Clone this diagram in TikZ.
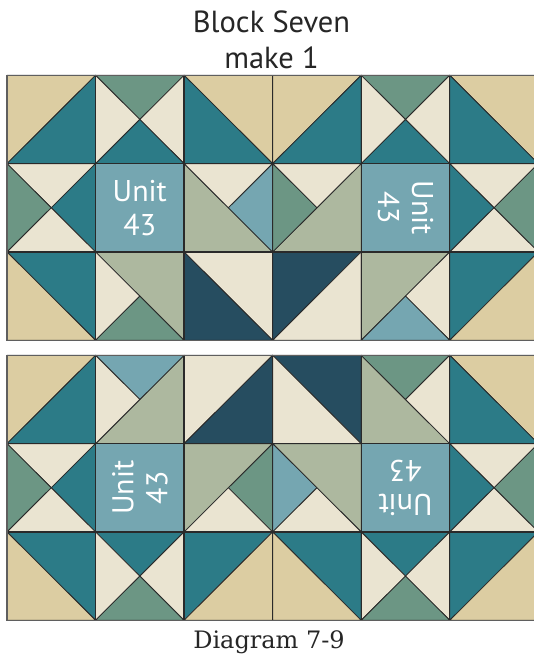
\documentclass[tikz,border=0pt]{standalone}
\usepackage{fontspec}
\setmainfont{Liberation Serif}
\newfontfamily\qsans{PT Sans}
\newfontfamily\qserif{DejaVu Serif}
\definecolor{qtan}{HTML}{DCCDA2}
\definecolor{qteal}{HTML}{2C7B87}
\definecolor{qcream}{HTML}{EAE4D1}
\definecolor{qgreen}{HTML}{6C9684}
\definecolor{qsage}{HTML}{ADB89F}
\definecolor{qlblue}{HTML}{75A6B1}
\definecolor{qnavy}{HTML}{264D60}
\definecolor{qline}{HTML}{2A2A2A}
\tikzset{
  seam/.style={draw=qline,line width=0.8pt,line join=round},
  gridline/.style={draw=qline,line width=1.3pt},
  border/.style={draw=qline!75,line width=1.6pt},
  unittext/.style={text=white,font=\qsans\fontsize{30}{34}\selectfont,align=center,inner sep=0pt},
}
\newcommand\qcell[2]{%
  \pgfmathsetmacro\xa{7+88.55*#1}%
  \pgfmathsetmacro\xb{\xa+88.55}%
  \pgfmathsetmacro\yb{#2+88.33}%
  \coordinate (TL) at (\xa,#2);
  \coordinate (TR) at (\xb,#2);
  \coordinate (BL) at (\xa,\yb);
  \coordinate (BR) at (\xb,\yb);
  \coordinate (C) at ({(\xa+\xb)/2},{(#2+\yb)/2});
}
\newcommand\qtri[4]{\filldraw[fill=#1,seam] (#2) -- (#3) -- (#4) -- cycle;}
\newcommand\qhA[2]{\qtri{#1}{TL}{TR}{BL}\qtri{#2}{TR}{BR}{BL}}
\newcommand\qhB[2]{\qtri{#1}{TL}{TR}{BR}\qtri{#2}{TL}{BR}{BL}}
\newcommand\qhg[4]{\qtri{#1}{TL}{TR}{C}\qtri{#2}{TL}{C}{BL}\qtri{#3}{TR}{BR}{C}\qtri{#4}{BL}{C}{BR}}
\newcommand\qunit[2]{\filldraw[fill=qlblue,seam] (TL) rectangle (BR); \node[unittext,rotate=#1] (#2) at (C) {Unit\\43};}
\begin{document}
\begin{tikzpicture}[x=1pt,y=-1pt]
\useasboundingbox (0,0) rectangle (534,654);
\fill[white] (0,0) rectangle (534,654);
\begin{scope}
\clip (0,0) rectangle (534,654);
% ---------- top block ----------
\def\ra{75.3}\def\rb{163.63}\def\rc{251.96}
\qcell{0}{\ra}\qhA{qtan}{qteal}
\qcell{1}{\ra}\qhg{qgreen}{qcream}{qcream}{qteal}
\qcell{2}{\ra}\qhB{qtan}{qteal}
\qcell{3}{\ra}\qhA{qtan}{qteal}
\qcell{4}{\ra}\qhg{qgreen}{qcream}{qcream}{qteal}
\qcell{5}{\ra}\qhB{qtan}{qteal}
\qcell{0}{\rb}\qhg{qcream}{qgreen}{qteal}{qcream}
\qcell{1}{\rb}\qunit{0}{ua}
\qcell{2}{\rb}\qtri{qsage}{TL}{BR}{BL}\qtri{qcream}{TL}{TR}{C}\qtri{qlblue}{TR}{BR}{C}
\qcell{3}{\rb}\qtri{qsage}{BL}{BR}{TR}\qtri{qcream}{TL}{TR}{C}\qtri{qgreen}{TL}{C}{BL}
\qcell{4}{\rb}\qunit{-90}{ub}
\qcell{5}{\rb}\qhg{qcream}{qteal}{qgreen}{qcream}
\qcell{0}{\rc}\qhB{qteal}{qtan}
\qcell{1}{\rc}\qtri{qsage}{TL}{TR}{BR}\qtri{qcream}{TL}{C}{BL}\qtri{qgreen}{BL}{C}{BR}
\qcell{2}{\rc}\qhB{qcream}{qnavy}
\qcell{3}{\rc}\qhA{qnavy}{qcream}
\qcell{4}{\rc}\qtri{qsage}{TL}{TR}{BL}\qtri{qcream}{TR}{BR}{C}\qtri{qlblue}{BL}{C}{BR}
\qcell{5}{\rc}\qhA{qteal}{qtan}
% ---------- bottom block ----------
\def\sa{355.3}\def\sb{443.63}\def\sc{531.96}
\qcell{0}{\sa}\qhA{qtan}{qteal}
\qcell{1}{\sa}\qtri{qsage}{TR}{BR}{BL}\qtri{qlblue}{TL}{TR}{C}\qtri{qcream}{TL}{C}{BL}
\qcell{2}{\sa}\qhA{qcream}{qnavy}
\qcell{3}{\sa}\qhB{qnavy}{qcream}
\qcell{4}{\sa}\qtri{qsage}{TL}{BR}{BL}\qtri{qgreen}{TL}{TR}{C}\qtri{qcream}{TR}{BR}{C}
\qcell{5}{\sa}\qhB{qtan}{qteal}
\qcell{0}{\sb}\qhg{qcream}{qgreen}{qteal}{qcream}
\qcell{1}{\sb}\qunit{90}{uc}
\qcell{2}{\sb}\qtri{qsage}{TL}{TR}{BL}\qtri{qgreen}{TR}{BR}{C}\qtri{qcream}{BL}{C}{BR}
\qcell{3}{\sb}\qtri{qsage}{TL}{TR}{BR}\qtri{qlblue}{TL}{C}{BL}\qtri{qcream}{BL}{C}{BR}
\qcell{4}{\sb}\qunit{180}{ud}
\qcell{5}{\sb}\qhg{qcream}{qteal}{qgreen}{qcream}
\qcell{0}{\sc}\qhB{qteal}{qtan}
\qcell{1}{\sc}\qhg{qteal}{qcream}{qcream}{qgreen}
\qcell{2}{\sc}\qhA{qteal}{qtan}
\qcell{3}{\sc}\qhB{qteal}{qtan}
\qcell{4}{\sc}\qhg{qteal}{qcream}{qcream}{qgreen}
\qcell{5}{\sc}\qhA{qteal}{qtan}
% ---------- grid lines ----------
\foreach \yt in {75.3,355.3}{
  \foreach \i in {1,...,5}{
    \draw[gridline] ({7+88.55*\i},\yt) -- ({7+88.55*\i},\yt+265);
  }
  \foreach \j in {1,2}{
    \draw[gridline] (7,{\yt+88.33*\j}) -- (538.3,{\yt+88.33*\j});
  }
  \draw[border] (7,\yt) rectangle (538.3,\yt+265);
}
\end{scope}
% ---------- texts ----------
\node[anchor=base,font=\qsans\fontsize{30.5}{32}\selectfont,text=black!85,inner sep=0pt] (t1) at (271.5,32.7) {Block Seven};
\node[anchor=base,font=\qsans\fontsize{30.5}{32}\selectfont,text=black!85,inner sep=0pt] (t2) at (271.5,68) {make 1};
\node[anchor=base,font=\qserif\fontsize{24}{26}\selectfont,text=black!85,inner sep=0pt] (cap) at (269,648) {Diagram 7-9};
\end{tikzpicture}
\end{document}
